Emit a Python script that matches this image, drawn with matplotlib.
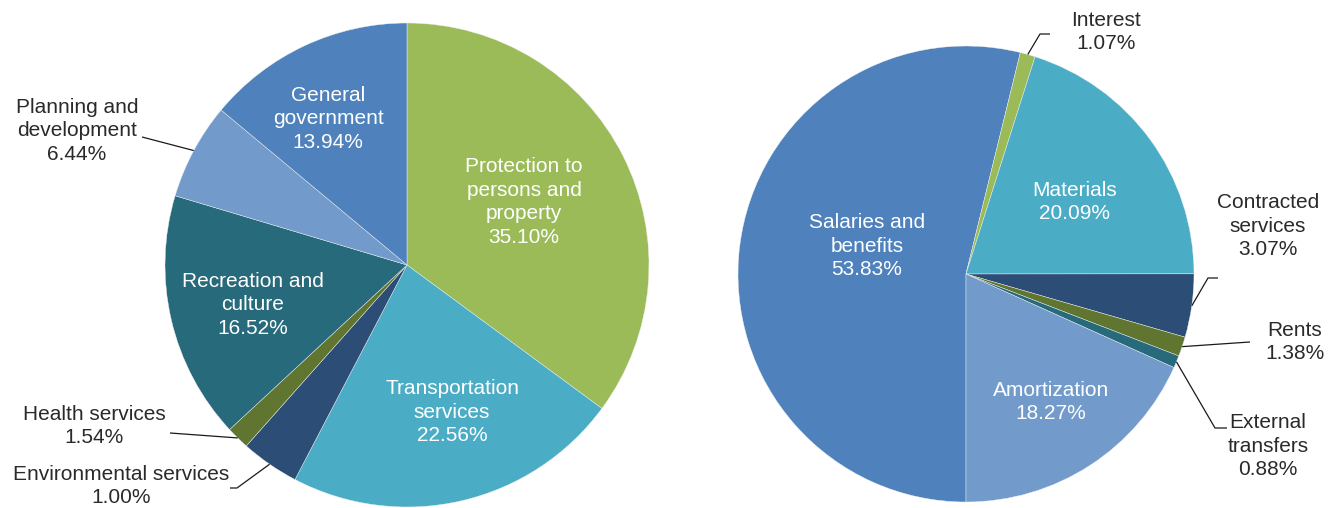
import matplotlib
matplotlib.use("Agg")
import matplotlib.pyplot as plt
import numpy as np

# ---------------- data ----------------
left_categories = ["Protection to\npersons and\nproperty", "Transportation\nservices",
                   "Environmental services", "Health services", "Recreation and\nculture",
                   "Planning and\ndevelopment", "General\ngovernment"]
# slice sizes as drawn in the picture (%)
left_values = [35.10, 22.56, 3.90, 1.54, 16.52, 6.44, 13.94]
# percentage labels as printed on the picture
left_pct_labels = ["35.10%", "22.56%", "1.00%", "1.54%", "16.52%", "6.44%", "13.94%"]

right_categories = ["Salaries and\nbenefits", "Interest", "Materials", "Contracted\nservices",
                    "Rents", "External\ntransfers", "Amortization"]
right_values = [53.83, 1.07, 20.09, 4.48, 1.38, 0.88, 18.27]
right_pct_labels = ["53.83%", "1.07%", "20.09%", "3.07%", "1.38%", "0.88%", "18.27%"]

# ---------------- styles ----------------
left_colors = ["#9BBB59", "#4BACC6", "#2C4D75", "#5F7530", "#276A7C", "#729ACA", "#4F81BD"]
right_colors = ["#4F81BD", "#9BBB59", "#4BACC6", "#2C4D75", "#5F7530", "#276A7C", "#729ACA"]

W, H = 1340, 508
FONT = "Liberation Sans"
FS = 15
DARK = "#2a2a2a"

fig = plt.figure(figsize=(W / 100, H / 100), dpi=100)
ax = fig.add_axes([0, 0, 1, 1])


def Y(py):
    return H - py


# left pie geometry (pixels)
LC = (407, 265)
LR = 242
# right pie geometry
RC = (966, 274)
RR = 228

wl, _ = ax.pie(left_values, colors=left_colors, startangle=90, counterclock=False,
               center=(LC[0], Y(LC[1])), radius=LR, frame=True,
               wedgeprops=dict(edgecolor="#f2f2f2", linewidth=0.3))
wr, _ = ax.pie(right_values, colors=right_colors, startangle=270, counterclock=False,
               center=(RC[0], Y(RC[1])), radius=RR, frame=True,
               wedgeprops=dict(edgecolor="#f2f2f2", linewidth=0.3))

ax.set_xlim(0, W)
ax.set_ylim(0, H)
ax.set_aspect("equal")
ax.axis("off")


def edge_point(w):
    t = np.deg2rad((w.theta1 + w.theta2) / 2)
    cx, cy = w.center
    return cx + w.r * np.cos(t), cy + w.r * np.sin(t)


def label(x, y, cat, pct, inside):
    ax.text(x, Y(y), cat + "\n" + pct, ha="center", va="center", fontsize=FS,
            family=FONT, color="white" if inside else DARK, linespacing=1.32)


def leader(w, pts):
    ex, ey = edge_point(w)
    xs = [p[0] for p in pts] + [ex]
    ys = [Y(p[1]) for p in pts] + [ey]
    ax.plot(xs, ys, color="#1a1a1a", lw=0.9, solid_capstyle="butt")


# ---- left pie labels ----
left_inside = {0: (524, 202), 1: (452, 412), 4: (253, 305), 6: (328, 119)}
for i, (x, y) in left_inside.items():
    label(x, y, left_categories[i], left_pct_labels[i], True)

label(77, 131, left_categories[5], left_pct_labels[5], False)
leader(wl[5], [(142, 137)])
label(94, 426, left_categories[3], left_pct_labels[3], False)
leader(wl[3], [(170, 433)])
label(121, 486, left_categories[2], left_pct_labels[2], False)
leader(wl[2], [(230, 488), (237, 488)])

# ---- right pie labels ----
right_inside = {0: (867, 246), 2: (1075, 202), 6: (1051, 402)}
for i, (x, y) in right_inside.items():
    label(x, y, right_categories[i], right_pct_labels[i], True)

label(1106, 32, right_categories[1], right_pct_labels[1], False)
leader(wr[1], [(1050, 34), (1040, 34)])
label(1268, 226, right_categories[3], right_pct_labels[3], False)
leader(wr[3], [(1218, 278), (1208, 278)])
label(1295, 342, right_categories[4], right_pct_labels[4], False)
leader(wr[4], [(1250, 342)])
label(1268, 446, right_categories[5], right_pct_labels[5], False)
leader(wr[5], [(1227, 428), (1215, 428)])

fig.savefig("out.png", dpi=100, facecolor="white")
